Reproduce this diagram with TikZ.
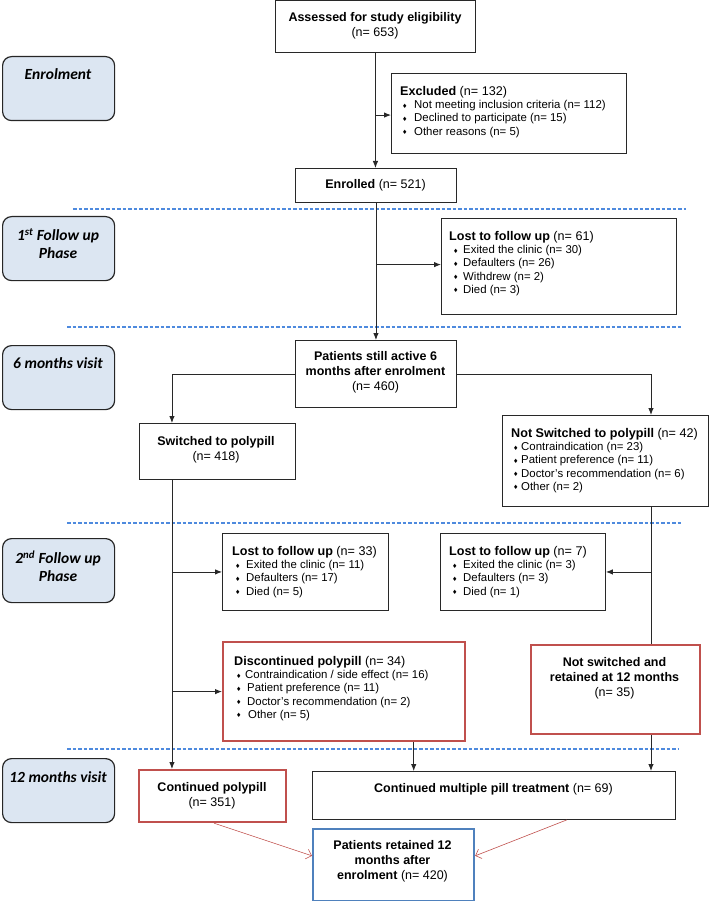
\documentclass[tikz,border=0pt]{standalone}
\usepackage{fontspec}
\setmainfont{Liberation Sans}
\newfontfamily\lblfont{Carlito}
\newfontfamily\djv{DejaVu Sans}
\usetikzlibrary{arrows.meta,calc}
\definecolor{lblfill}{RGB}{220,230,242}
\definecolor{dashblue}{RGB}{78,138,222}
\definecolor{redb}{RGB}{192,80,77}
\definecolor{blueb}{RGB}{79,129,189}
\definecolor{linec}{RGB}{40,40,40}
\newcommand\bl[2]{\hspace*{#1}\makebox[#2][l]{\raisebox{0.6pt}{\djv\fontsize{6}{6}\selectfont ♦}}}
\newcommand\ttl[1]{{\fontsize{12.6}{14}\selectfont #1}}
\tikzset{
  box/.style={draw=linec, line width=0.9pt, inner sep=0pt, rectangle, anchor=north west},
  redbox/.style={box, draw=redb, line width=2.2pt},
  bluebox/.style={box, draw=blueb, line width=2.2pt},
  lbl/.style={draw=black!85, fill=lblfill, rounded corners=9pt, line width=1.2pt, inner sep=0pt, anchor=north west, minimum width=112pt, minimum height=64pt},
  lbltxt/.style={inner sep=0pt, align=center, font=\lblfont\bfseries\itshape\fontsize{15.5}{18}\selectfont},
  sep/.style={dashblue, dash pattern=on 3.5pt off 2pt, line width=1.1pt},
  arr/.style={-{Latex[length=7pt,width=5.5pt]}, linec, line width=0.9pt},
  plain/.style={linec, line width=0.9pt},
  redarr/.style={-{Straight Barb[length=5pt,width=10pt]}, redb, line width=0.6pt},
  txt/.style={inner sep=0pt, align=center, font=\fontsize{12.5}{15}\selectfont},
  list/.style={inner sep=0pt, align=left, anchor=north west, font=\fontsize{11.4}{13.3}\selectfont}
}
\begin{document}
\begin{tikzpicture}[x=1pt,y=-1pt]
\useasboundingbox (0,0) rectangle (709,901);

% phase labels
\node[lbl] (L1) at (2,56) {};
\node[lbltxt] (L1t) at (58,74) {Enrolment};
\node[lbl] (L2) at (2,216) {};
\node[lbltxt] (L2t) at (58,244) {1\textsuperscript{st} Follow up\\Phase};
\node[lbl] (L3) at (2,345) {};
\node[lbltxt] (L3t) at (58,363) {6 months visit};
\node[lbl] (L4) at (2,538) {};
\node[lbltxt] (L4t) at (58,566) {2\textsuperscript{nd} Follow up\\Phase};
\node[lbl] (L5) at (2,758) {};
\node[lbltxt] (L5t) at (58,777) {12 months visit};

% separators
\draw[sep] (73,209) -- (686,209);
\draw[sep] (67,327) -- (681,327);
\draw[sep] (67,523) -- (681,523);
\draw[sep] (67,749) -- (679,749);

% boxes
\node[box, minimum width=200pt, minimum height=52pt] (assessed) at (275,0) {};
\node[txt] (assessedt) at (375,25.5) {\textbf{Assessed for study eligibility}\\(n= 653)};

\node[box, minimum width=235pt, minimum height=80pt] (excluded) at (391,73) {};
\node[list] (excludedt) at (400,86) {\ttl{\textbf{Excluded} (n= 132)}\\
\bl{2pt}{12pt}Not meeting inclusion criteria (n= 112)\\
\bl{2pt}{12pt}Declined to participate (n= 15)\\
\bl{2pt}{12pt}Other reasons (n= 5)};

\node[box, minimum width=161pt, minimum height=34pt] (enrolled) at (295,168) {};
\node[txt] (enrolledt) at (375.5,185) {\textbf{Enrolled} (n= 521)};

\node[box, minimum width=235pt, minimum height=96pt] (lost1) at (441,218) {};
\node[list] (lost1t) at (449,231) {\ttl{\textbf{Lost to follow up} (n= 61)}\\
\bl{4pt}{10pt}Exited the clinic (n= 30)\\
\bl{4pt}{10pt}Defaulters (n= 26)\\
\bl{4pt}{10pt}Withdrew (n= 2)\\
\bl{4pt}{10pt}Died (n= 3)};

\node[box, minimum width=161pt, minimum height=67pt] (active) at (295,340) {};
\node[txt] (activet) at (375.5,372.5) {\textbf{Patients still active 6}\\\textbf{months after enrolment}\\(n= 460)};

\node[box, minimum width=156pt, minimum height=56pt] (switched) at (139,423) {};
\node[txt] (switchedt) at (216,450) {\textbf{Switched to polypill}\\(n= 418)};

\node[box, minimum width=206pt, minimum height=91pt] (notsw) at (502,415) {};
\node[list] (notswt) at (511,428) {\ttl{\textbf{Not Switched to polypill} (n= 42)}\\
\bl{2pt}{8pt}Contraindication (n= 23)\\
\bl{2pt}{8pt}Patient preference (n= 11)\\
\bl{2pt}{8pt}Doctor's recommendation (n= 6)\\
\bl{2pt}{8pt}Other (n= 2)};

\node[box, minimum width=166pt, minimum height=77pt] (lost2) at (222,533) {};
\node[list] (lost2t) at (232,546) {\ttl{\textbf{Lost to follow up} (n= 33)}\\
\bl{3pt}{11pt}Exited the clinic (n= 11)\\
\bl{3pt}{11pt}Defaulters (n= 17)\\
\bl{3pt}{11pt}Died (n= 5)};

\node[box, minimum width=165pt, minimum height=77pt] (lost3) at (440,533) {};
\node[list] (lost3t) at (449,546) {\ttl{\textbf{Lost to follow up} (n= 7)}\\
\bl{3pt}{11pt}Exited the clinic (n= 3)\\
\bl{3pt}{11pt}Defaulters (n= 3)\\
\bl{3pt}{11pt}Died (n= 1)};

\node[redbox, minimum width=242pt, minimum height=99pt] (disc) at (222,641) {};
\node[list] (disct) at (234,656) {\ttl{\textbf{Discontinued polypill} (n= 34)}\\
\bl{2pt}{9pt}Contraindication / side effect (n= 16)\\
\bl{2pt}{11pt}Patient preference (n= 11)\\
\bl{2pt}{11pt}Doctor's recommendation (n= 2)\\
\bl{2pt}{12pt}Other (n= 5)};

\node[redbox, minimum width=169pt, minimum height=89pt] (notret) at (530,644) {};
\node[txt] (notrett) at (614.5,678) {\textbf{Not switched and}\\\textbf{retained at 12 months}\\(n= 35)};

\node[redbox, minimum width=147pt, minimum height=52pt] (contpoly) at (138,769) {};
\node[txt] (contpolyt) at (212,795.5) {\textbf{Continued polypill}\\(n= 351)};

\node[box, minimum width=363pt, minimum height=48pt] (contmult) at (312,771) {};
\node[txt] (contmultt) at (493.5,789) {\textbf{Continued multiple pill treatment} (n= 69)};

\node[bluebox, minimum width=161pt, minimum height=72pt] (retained) at (312,828) {};
\node[txt] (retainedt) at (392.5,861.5) {\textbf{Patients retained 12}\\\textbf{months after}\\\textbf{enrolment} (n= 420)};

% connectors
\draw[arr] (assessed.south) -- (assessed.south |- enrolled.north);
\coordinate (j1) at ($(assessed.south)!0.54!(assessed.south |- enrolled.north)$);
\draw[arr] (j1) -- (j1 -| excluded.west);
\draw[arr] (enrolled.south) -- (enrolled.south |- active.north);
\coordinate (j2) at ($(enrolled.south)!0.45!(enrolled.south |- active.north)$);
\draw[arr] (j2) -- (j2 -| lost1.west);

\draw[arr] (active.west) -| ($(switched.north west)!0.21!(switched.north east)$);
\draw[arr] (active.east) -| ($(notsw.north west)!0.72!(notsw.north east)$);

\coordinate (t1) at ($(switched.south west)!0.21!(switched.south east)$);
\draw[arr] (t1) -- (t1 |- contpoly.north);
\draw[arr] (t1 |- lost2.west) -- (lost2.west);
\draw[arr] (t1 |- disc.west) -- (disc.west);

\coordinate (t2) at ($(notsw.south west)!0.72!(notsw.south east)$);
\draw[plain] (t2) -- (t2 |- notret.north);
\draw[arr] (t2 |- lost3.east) -- (lost3.east);

\coordinate (d1) at ($(disc.south west)!0.785!(disc.south east)$);
\draw[arr] (d1) -- (d1 |- contmult.north);
\draw[arr] (t2 |- notret.south) -- (t2 |- contmult.north);

\draw[redarr] ($(contpoly.south west)!0.51!(contpoly.south east)$) -- ($(retained.north west)!0.375!(retained.south west)$);
\draw[redarr] ($(contmult.south west)!0.70!(contmult.south east)$) -- ($(retained.north east)!0.375!(retained.south east)$);
\end{tikzpicture}
\end{document}
